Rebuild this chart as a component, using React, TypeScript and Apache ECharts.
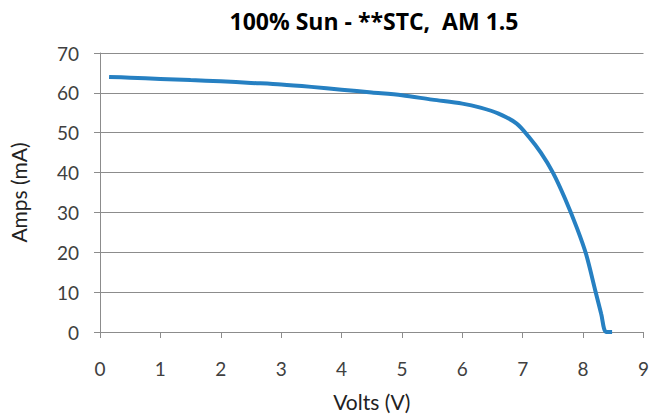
import React, { useEffect, useRef } from "react";
import * as echarts from "echarts";

const titleText = "100% Sun - **STC,  AM 1.5";
const volts = [0.15, 0.5, 1.0, 1.5, 2.0, 2.5, 3.0, 3.5, 4.0, 4.5, 5.0, 5.5, 6.0, 6.3, 6.6, 6.9, 7.1, 7.3, 7.5, 7.7, 7.9, 8.05, 8.2, 8.3, 8.38, 8.48];
const amps = [64.0, 63.8, 63.5, 63.2, 62.9, 62.5, 62.1, 61.5, 60.8, 60.1, 59.4, 58.3, 57.3, 56.3, 54.8, 52.3, 49.0, 45.0, 40.0, 33.5, 26.0, 19.5, 10.5, 4.5, 0, 0];

export default function App() {
  const ref = useRef<HTMLDivElement>(null);
  useEffect(() => {
    const chart = echarts.init(ref.current!, null, { renderer: "svg" });
    const font = "Lato, 'Open Sans', sans-serif";
    chart.setOption({
      animation: false,
      backgroundColor: "#ffffff",
      title: {
        text: titleText,
        left: 369,
        textAlign: "center",
        top: 4,
        textStyle: { fontFamily: "'Open Sans', sans-serif", fontWeight: "bold", fontSize: 23, color: "#000" },
      },
      grid: { left: 98, right: 6, top: 53, bottom: 85 },
      xAxis: {
        type: "value",
        min: 0,
        max: 9,
        interval: 1,
        name: "Volts (V)",
        nameLocation: "middle",
        nameGap: 59,
        nameTextStyle: { fontFamily: font, fontSize: 21, color: "#222" },
        axisLine: { show: true, onZero: false, lineStyle: { color: "#8c8c8c", width: 1 } },
        axisTick: { show: true, length: 6, lineStyle: { color: "#8c8c8c" } },
        axisLabel: { fontFamily: font, fontSize: 19, color: "#404040", margin: 27 },
        splitLine: { show: false },
      },
      yAxis: {
        type: "value",
        min: 0,
        max: 70,
        interval: 10,
        name: "Amps (mA)",
        nameLocation: "middle",
        nameGap: 71,
        nameTextStyle: { fontFamily: font, fontSize: 21, color: "#222" },
        axisLine: { show: true, lineStyle: { color: "#8c8c8c", width: 1 } },
        axisTick: { show: true, length: 6, lineStyle: { color: "#8c8c8c" } },
        axisLabel: { fontFamily: font, fontSize: 19, color: "#404040", margin: 21 },
        splitLine: { show: true, lineStyle: { color: "#8c8c8c", width: 1 } },
      },
      series: [
        {
          type: "line",
          data: volts.map((v, i) => [v, amps[i]]),
          smooth: 0.3,
          showSymbol: false,
          lineStyle: { color: "#2680c2", width: 4 },
          itemStyle: { color: "#2680c2" },
        },
      ],
    });
    return () => chart.dispose();
  }, []);
  return <div ref={ref} style={{ width: 652, height: 417, position: "absolute", left: 0, top: 0 }} />;
}
